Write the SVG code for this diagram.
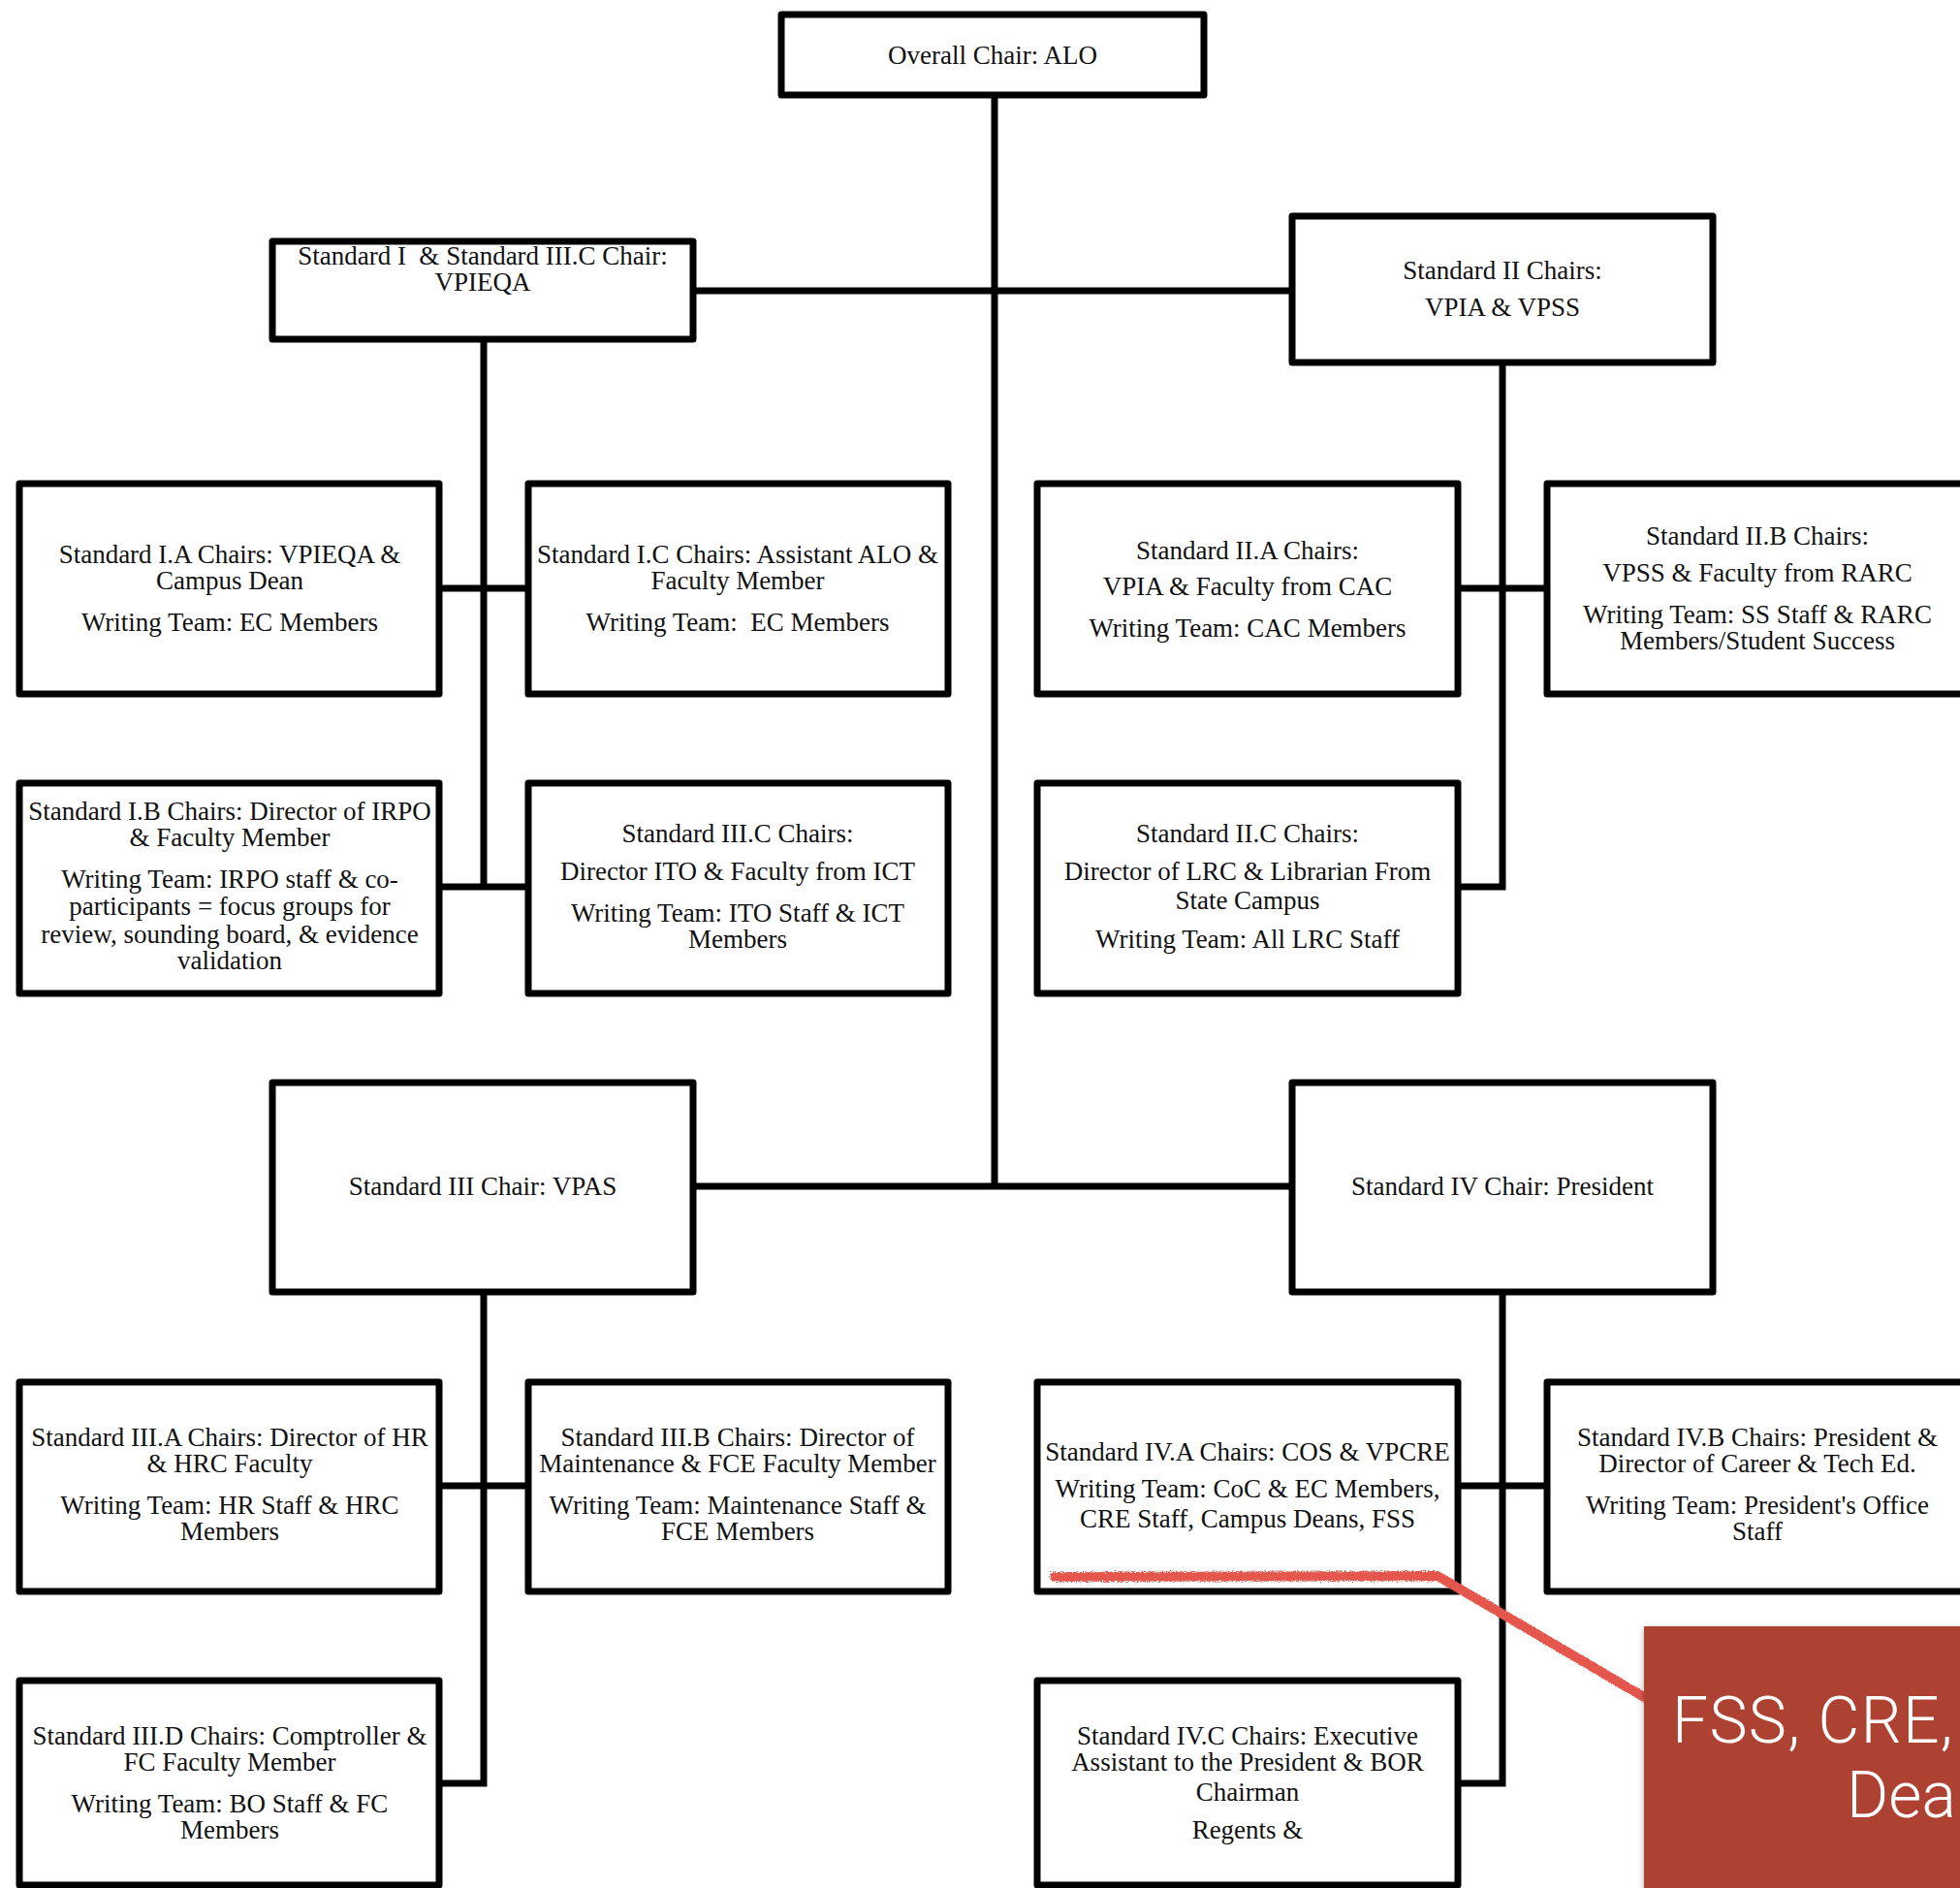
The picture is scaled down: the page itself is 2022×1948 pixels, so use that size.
<svg xmlns="http://www.w3.org/2000/svg" width="2022" height="1948" viewBox="0 0 2022 1948">
<style>
.box{fill:#fff;stroke:#000;stroke-width:7;stroke-linejoin:round}
.t{font-family:"Liberation Serif","Times New Roman",serif;font-size:27px;fill:#111;text-anchor:middle;white-space:pre}
.conn{fill:none;stroke:#000;stroke-width:7;stroke-linecap:butt;stroke-linejoin:miter}
.pen{fill:none;stroke:#e5564d;stroke-width:10;stroke-linecap:round;stroke-linejoin:round;filter:url(#rough)}
.callt{font-family:Roboto,"Liberation Sans",Arial,sans-serif;font-weight:300;font-size:66px;letter-spacing:1.3px;fill:#fff}
</style>
<defs>
<filter id="rough" x="-5%" y="-50%" width="110%" height="200%">
<feTurbulence type="fractalNoise" baseFrequency="0.8" numOctaves="2" seed="3"/>
<feDisplacementMap in="SourceGraphic" scale="6"/>
</filter>
<filter id="shadow" x="-10%" y="-10%" width="120%" height="120%">
<feDropShadow dx="0" dy="2" stdDeviation="3" flood-color="#000" flood-opacity="0.35"/>
</filter>
</defs>
<rect width="2022" height="1948" fill="#fff"/>
<g id="connectors">
<path class="conn" d="M1026,98 V1224"/>
<path class="conn" d="M715,300 H1333"/>
<path class="conn" d="M715,1224 H1333"/>
<path class="conn" d="M499,350 V915"/>
<path class="conn" d="M1550,374 V915 H1504"/>
<path class="conn" d="M453,607 H545"/>
<path class="conn" d="M1504,607 H1596"/>
<path class="conn" d="M453,915 H545"/>
<path class="conn" d="M499,1333 V1840 H453"/>
<path class="conn" d="M1550,1333 V1840 H1504"/>
<path class="conn" d="M453,1533 H545"/>
<path class="conn" d="M1504,1533 H1596"/>
</g>
<g id="overall"><rect class="box" x="806" y="15" width="436" height="83"/><text class="t" x="1024" y="66">Overall Chair: ALO</text></g>
<g id="std1"><rect class="box" x="281" y="249" width="434" height="101"/><text class="t"><tspan x="498" y="273">Standard I  &amp; Standard III.C Chair:</tspan><tspan x="498" y="300">VPIEQA</tspan></text></g>
<g id="std2"><rect class="box" x="1333" y="223" width="434" height="151"/><text class="t"><tspan x="1550" y="288">Standard II Chairs:</tspan><tspan x="1550" y="326">VPIA &amp; VPSS</tspan></text></g>
<g id="std1a"><rect class="box" x="20" y="499" width="433" height="217"/><text class="t"><tspan x="237" y="581">Standard I.A Chairs: VPIEQA &amp;</tspan><tspan x="237" y="608">Campus Dean</tspan><tspan x="237" y="651">Writing Team: EC Members</tspan></text></g>
<g id="std1c"><rect class="box" x="545" y="499" width="433" height="217"/><text class="t"><tspan x="761" y="581">Standard I.C Chairs: Assistant ALO &amp;</tspan><tspan x="761" y="608">Faculty Member</tspan><tspan x="761" y="651">Writing Team:  EC Members</tspan></text></g>
<g id="std2a"><rect class="box" x="1070" y="499" width="434" height="217"/><text class="t"><tspan x="1287" y="577">Standard II.A Chairs:</tspan><tspan x="1287" y="614">VPIA &amp; Faculty from CAC</tspan><tspan x="1287" y="657">Writing Team: CAC Members</tspan></text></g>
<g id="std2b"><rect class="box" x="1596" y="499" width="434" height="217"/><text class="t"><tspan x="1813" y="562">Standard II.B Chairs:</tspan><tspan x="1813" y="600">VPSS &amp; Faculty from RARC</tspan><tspan x="1813" y="643">Writing Team: SS Staff &amp; RARC</tspan><tspan x="1813" y="670">Members/Student Success</tspan></text></g>
<g id="std1b"><rect class="box" x="20" y="808" width="433" height="217"/><text class="t"><tspan x="237" y="846">Standard I.B Chairs: Director of IRPO</tspan><tspan x="237" y="873">&amp; Faculty Member</tspan><tspan x="237" y="916">Writing Team: IRPO staff &amp; co-</tspan><tspan x="237" y="944">participants = focus groups for</tspan><tspan x="237" y="973">review, sounding board, &amp; evidence</tspan><tspan x="237" y="1000">validation</tspan></text></g>
<g id="std3c"><rect class="box" x="545" y="808" width="433" height="217"/><text class="t"><tspan x="761" y="869">Standard III.C Chairs:</tspan><tspan x="761" y="908">Director ITO &amp; Faculty from ICT</tspan><tspan x="761" y="951">Writing Team: ITO Staff &amp; ICT</tspan><tspan x="761" y="978">Members</tspan></text></g>
<g id="std2c"><rect class="box" x="1070" y="808" width="434" height="217"/><text class="t"><tspan x="1287" y="869">Standard II.C Chairs:</tspan><tspan x="1287" y="908">Director of LRC &amp; Librarian From</tspan><tspan x="1287" y="938">State Campus</tspan><tspan x="1287" y="978">Writing Team: All LRC Staff</tspan></text></g>
<g id="std3"><rect class="box" x="281" y="1117" width="434" height="216"/><text class="t" x="498" y="1233">Standard III Chair: VPAS</text></g>
<g id="std4"><rect class="box" x="1333" y="1117" width="434" height="216"/><text class="t" x="1550" y="1233">Standard IV Chair: President</text></g>
<g id="std3a"><rect class="box" x="20" y="1426" width="433" height="216"/><text class="t"><tspan x="237" y="1492">Standard III.A Chairs: Director of HR</tspan><tspan x="237" y="1519">&amp; HRC Faculty</tspan><tspan x="237" y="1562">Writing Team: HR Staff &amp; HRC</tspan><tspan x="237" y="1589">Members</tspan></text></g>
<g id="std3b"><rect class="box" x="545" y="1426" width="433" height="216"/><text class="t"><tspan x="761" y="1492">Standard III.B Chairs: Director of</tspan><tspan x="761" y="1519">Maintenance &amp; FCE Faculty Member</tspan><tspan x="761" y="1562">Writing Team: Maintenance Staff &amp;</tspan><tspan x="761" y="1589">FCE Members</tspan></text></g>
<g id="std4a"><rect class="box" x="1070" y="1426" width="434" height="216"/><text class="t"><tspan x="1287" y="1507">Standard IV.A Chairs: COS &amp; VPCRE</tspan><tspan x="1287" y="1545">Writing Team: CoC &amp; EC Members,</tspan><tspan x="1287" y="1576">CRE Staff, Campus Deans, FSS</tspan></text></g>
<g id="std4b"><rect class="box" x="1596" y="1426" width="434" height="216"/><text class="t"><tspan x="1813" y="1492">Standard IV.B Chairs: President &amp;</tspan><tspan x="1813" y="1519">Director of Career &amp; Tech Ed.</tspan><tspan x="1813" y="1562">Writing Team: President's Office</tspan><tspan x="1813" y="1589">Staff</tspan></text></g>
<g id="std3d"><rect class="box" x="20" y="1734" width="433" height="211"/><text class="t"><tspan x="237" y="1800">Standard III.D Chairs: Comptroller &amp;</tspan><tspan x="237" y="1827">FC Faculty Member</tspan><tspan x="237" y="1870">Writing Team: BO Staff &amp; FC</tspan><tspan x="237" y="1897">Members</tspan></text></g>
<g id="std4c"><rect class="box" x="1070" y="1734" width="434" height="211"/><text class="t"><tspan x="1287" y="1800">Standard IV.C Chairs: Executive</tspan><tspan x="1287" y="1827">Assistant to the President &amp; BOR</tspan><tspan x="1287" y="1858">Chairman</tspan><tspan x="1287" y="1897">Regents &amp;</tspan></text></g>
<g id="annotation">
<path class="pen" d="M1088,1627 L1483,1626 L1696,1751"/>
<rect x="1696" y="1678" width="340" height="290" fill="#ae4331" filter="url(#shadow)"/>
<text class="callt"><tspan x="1725" y="1798">FSS, CRE,</tspan><tspan x="1905" y="1875" letter-spacing="0">Dea</tspan></text>
</g>
</svg>
